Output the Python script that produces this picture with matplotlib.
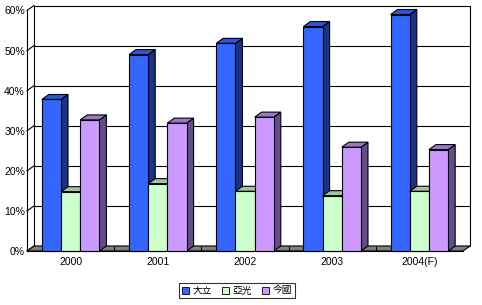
import matplotlib
matplotlib.use("Agg")
import matplotlib.pyplot as plt
from matplotlib.patches import Polygon, Patch

# data (percent)
years = ["2000", "2001", "2002", "2003", "2004(F)"]
series_names = ["大立", "亞光", "今國"]
largan = [37.8, 49.0, 51.8, 56.0, 59.0]
asia_optical = [14.8, 16.8, 14.9, 13.8, 14.9]
genius = [32.7, 31.9, 33.4, 25.9, 25.3]
y_ticks = [0, 10, 20, 30, 40, 50, 60]

series = [largan, asia_optical, genius]
front_cols = ["#3366FF", "#CCFFCC", "#CC99FF"]
top_cols = ["#2B55DD", "#A3C2A3", "#9A78CC"]
side_cols = ["#1A3388", "#809980", "#634C8A"]

W, H = 482, 305
fig = plt.figure(figsize=(W / 100, H / 100), dpi=100)
ax_l, ax_r, ax_b, ax_t = 27, 463, 251, 10.5
ax = fig.add_axes([ax_l / W, (H - ax_b) / H, (ax_r - ax_l) / W, (ax_b - ax_t) / H])
ax.set_xlim(-0.5, len(years) - 0.5)
ax.set_ylim(0, 60)

# 3d depth in data units
px_x = len(years) / (ax_r - ax_l)
px_y = 60 / (ax_b - ax_t)
dx, dy = 7 * px_x, 5 * px_y
lw = 0.8
x0, x1 = -0.5, len(years) - 0.5

# back wall + gridlines
wall = Polygon([(x0 + dx, dy), (x1 + dx, dy), (x1 + dx, 60 + dy), (x0 + dx, 60 + dy)],
               closed=True, facecolor="white", edgecolor="black", lw=lw, clip_on=False, zorder=1)
ax.add_patch(wall)
for t in y_ticks[1:-1]:
    ax.plot([x0 + dx, x1 + dx], [t + dy, t + dy], color="black", lw=lw, clip_on=False, zorder=1.5)
# left wall ticks
for t in y_ticks:
    ax.plot([x0, x0 + dx], [t, t + dy], color="black", lw=lw, clip_on=False, zorder=1.5)

# floor
floor = Polygon([(x0, 0), (x1, 0), (x1 + dx, dy), (x0 + dx, dy)], closed=True,
                facecolor="#808080", edgecolor="black", lw=lw, clip_on=False, zorder=2)
ax.add_patch(floor)
for i in range(1, len(years)):
    ax.plot([i - 0.5, i - 0.5], [0, dy * 0.8], color="black", lw=lw, zorder=2.1)

# bars
bw = 0.22
z = 3
for gi in range(len(years)):
    for si, vals in enumerate(series):
        v = vals[gi]
        left = gi + (si - 1) * bw - bw / 2
        right = left + bw
        side = Polygon([(right, 0), (right, v), (right + dx, v + dy), (right + dx, dy)], closed=True,
                       facecolor=side_cols[si], edgecolor="black", lw=lw, zorder=z, clip_on=False)
        top = Polygon([(left, v), (right, v), (right + dx, v + dy), (left + dx, v + dy)], closed=True,
                      facecolor=top_cols[si], edgecolor="black", lw=lw, zorder=z, clip_on=False)
        ax.add_patch(side)
        ax.add_patch(top)
        ax.bar(gi + (si - 1) * bw, v, width=bw, color=front_cols[si], edgecolor="black",
               lw=lw, zorder=z + 0.5, clip_on=False)
        z += 1

for s in ["top", "right", "bottom"]:
    ax.spines[s].set_visible(False)
ax.spines["left"].set_linewidth(lw)
ax.spines["left"].set_zorder(50)
ax.plot([x0, x1], [0, 0], color="black", lw=lw, zorder=50, clip_on=False)

ax.set_xticks(range(len(years)))
ax.set_xticklabels(years)
ax.set_yticks(y_ticks)
ax.set_yticklabels([f"{t}%" for t in y_ticks])
ax.tick_params(axis="both", length=0, labelsize=7.5)
ax.tick_params(axis="y", pad=1.5)
ax.tick_params(axis="x", pad=4.5)
for lab in ax.get_xticklabels() + ax.get_yticklabels():
    lab.set_family(["Liberation Sans", "DejaVu Sans"])

handles = [Patch(facecolor=c, edgecolor="black", lw=0.6) for c in front_cols]
leg = fig.legend(handles, series_names, loc="center", bbox_to_anchor=(237 / W, (H - 290.5) / H),
                 ncol=3, frameon=True, fancybox=False, edgecolor="black",
                 prop={"family": ["Noto Sans CJK TC", "DejaVu Sans"], "size": 7},
                 handlelength=0.7, handleheight=0.7, handletextpad=0.4, columnspacing=1.0,
                 borderpad=0.3, borderaxespad=0)
leg.get_frame().set_linewidth(lw)

fig.savefig("out.png", dpi=100)
